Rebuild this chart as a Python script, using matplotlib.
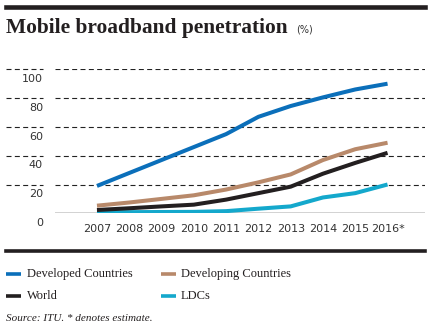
import matplotlib
matplotlib.use("Agg")
import matplotlib.pyplot as plt
from matplotlib.lines import Line2D
from matplotlib.transforms import blended_transform_factory

# Mobile broadband penetration per 100 inhabitants, ITU
years = [2007, 2008, 2009, 2010, 2011, 2012, 2013, 2014, 2015, 2016]
year_labels = ["2007", "2008", "2009", "2010", "2011", "2012", "2013", "2014", "2015", "2016*"]
developed = [19, 28, 37, 46, 55, 67, 74.5, 80.5, 86, 90]
developing = [5.3, 7.5, 10, 12.5, 16.5, 21.5, 27, 37, 44.5, 49]
world = [2.3, 3.5, 4.8, 6, 9.5, 14, 18.5, 27.5, 35, 42]
ldcs = [0.8, 0.8, 0.9, 1, 1.5, 3.2, 4.8, 11, 14, 20]
y_ticks = [0, 20, 40, 60, 80, 100]

series = [
    ("Developed Countries", developed, "#0b6fba"),
    ("Developing Countries", developing, "#b8896a"),
    ("World", world, "#231f20"),
    ("LDCs", ldcs, "#14a8cc"),
]

W, H = 430, 328
fig = plt.figure(figsize=(W / 100, H / 100), dpi=100)
ax = fig.add_axes([55 / W, (H - 213.3) / H, 370 / W, 144 / H])
ax.set_xlim(2005.70, 2017.16)
ax.set_ylim(0, 100)
for s in ax.spines.values():
    s.set_visible(False)
ax.set_yticks([])

# dashed gridlines, with a short segment behind the value labels
dash = (4.5, 3.0)
left = blended_transform_factory(fig.transFigure, ax.transData)
for v in y_ticks[1:]:
    ax.axhline(v, color="#222222", lw=0.8, dashes=dash, zorder=1)
    ax.plot([6 / W, 43 / W], [v, v], transform=left, color="#222222",
            lw=0.8, dashes=dash, clip_on=False)
ax.axhline(0, color="#222222", lw=1.0, zorder=1)
for v in y_ticks:
    ax.text(43 / W, v - 6.8, str(v), transform=left, ha="right", va="center",
            fontsize=8, color="#333333", family="DejaVu Sans")

for name, vals, col in series[::-1]:
    ax.plot(years, vals, color=col, lw=2.9, solid_capstyle="butt", zorder=3)

ax.set_xticks(years)
ax.set_xticklabels(year_labels, fontsize=8, color="#333333", family="DejaVu Sans")
ax.tick_params(axis="x", length=0, pad=8)

# heading and rules
fig.add_artist(Line2D([6 / W, 425 / W], [1 - 7.3 / H] * 2, color="#231f20", lw=3.3))
fig.add_artist(Line2D([6 / W, 425 / W], [1 - 251 / H] * 2, color="#231f20", lw=2.6))
fig.text(6 / W, 1 - 32.5 / H, "Mobile broadband penetration", fontsize=15.4,
         fontweight="bold", family="Liberation Serif", color="#231f20",
         va="baseline")
fig.text(296 / W, 1 - 32 / H, "(%)", fontsize=7, family="DejaVu Sans",
         color="#333333", va="baseline")

# legend
rows = [274, 296]
cols = [(6, 27), (161, 181)]
for i, (name, vals, col) in enumerate(series):
    r, c = divmod(i, 2)
    y = 1 - rows[r] / H
    x0, xt = cols[c]
    fig.add_artist(Line2D([x0 / W, (x0 + 15) / W], [y, y], color=col, lw=2.6,
                          solid_capstyle="butt"))
    fig.text(xt / W, y, name, fontsize=9, family="Liberation Serif",
             color="#231f20", va="center")

fig.text(6 / W, 1 - 318.5 / H, "Source: ITU. * denotes estimate.", fontsize=8,
         family="Liberation Serif", style="italic", color="#231f20", va="center")

fig.savefig("out.png", dpi=100)
